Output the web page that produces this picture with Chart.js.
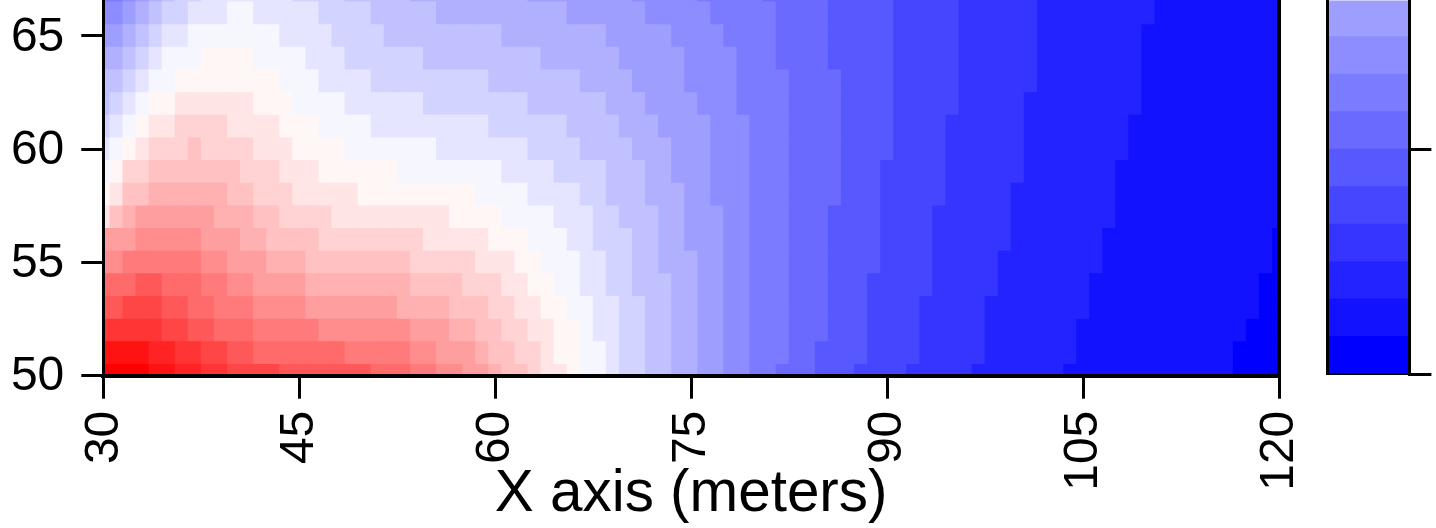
<!DOCTYPE html>
<html>
<head>
<meta charset="utf-8">
<style>
html,body{margin:0;padding:0;background:#fff;overflow:hidden;width:1436px;height:528px}
canvas{position:absolute;top:0;left:0}
</style>
<script src="https://cdn.jsdelivr.net/npm/chart.js@4"></script>
</head>
<body>
<canvas id="main" width="1436" height="528" style="width:1436px;height:528px"></canvas>
<canvas id="bar" width="136" height="528" style="left:1300px;width:136px;height:528px"></canvas>
<script>
// Colour levels, low to high
const palette = ['#0000FF','#1212FF','#2323FF','#3535FF','#4646FF','#5858FF','#6A6AFF','#7B7BFF','#8D8DFF','#9E9EFF',
  '#B0B0FF','#C1C1FF','#D3D3FF','#E5E5FF','#F6F6FF','#FFF6F6','#FFE5E5','#FFD3D3','#FFC1C1','#FFB0B0',
  '#FF9E9E','#FF8D8D','#FF7B7B','#FF6A6A','#FF5858','#FF4646','#FF3535','#FF2323','#FF1212','#FF0000'];

// Each row: [level, last x of that run], read left to right from x = 30
const row50 = [[29,33],[28,35],[27,37],[26,39],[25,43],[24,50],[23,53],[22,55],[21,57],[20,59],[19,60],[18,62],[17,63],[16,65],[15,66],[14,68],[13,69],[12,71],[11,73],[10,75],[9,77],[8,79],[7,81],[6,84],[5,87],[4,91],[3,96],[2,103],[1,116],[0,120]];
const row51 = [[28,33],[27,35],[26,37],[25,39],[24,41],[23,48],[22,53],[21,55],[20,58],[19,59],[18,61],[17,63],[16,64],[15,66],[14,68],[13,69],[12,71],[11,73],[10,75],[9,77],[8,79],[7,82],[6,84],[5,88],[4,92],[3,97],[2,104],[1,116],[0,120]];
const row52 = [[26,34],[25,36],[24,38],[23,41],[22,46],[21,53],[20,56],[19,58],[18,60],[17,62],[16,64],[15,66],[14,67],[13,69],[12,71],[11,73],[10,75],[9,77],[8,79],[7,82],[6,85],[5,88],[4,92],[3,97],[2,104],[1,117],[0,120]];
const row53 = [[24,31],[25,34],[24,36],[23,38],[22,41],[21,45],[20,52],[19,56],[18,59],[17,61],[16,63],[15,65],[14,67],[13,69],[12,71],[11,73],[10,75],[9,77],[8,79],[7,82],[6,85],[5,88],[4,92],[3,97],[2,105],[1,118],[0,120]];
const row54 = [[23,32],[24,34],[23,37],[22,39],[21,41],[20,45],[19,53],[18,57],[17,60],[16,62],[15,64],[14,66],[13,68],[12,70],[11,73],[10,75],[9,77],[8,79],[7,82],[6,85],[5,88],[4,93],[3,98],[2,105],[1,118],[0,120]];
const row55 = [[21,31],[22,37],[21,39],[20,42],[19,45],[18,53],[17,58],[16,61],[15,63],[14,66],[13,68],[12,70],[11,72],[10,75],[9,77],[8,79],[7,82],[6,85],[5,89],[4,93],[3,98],[2,106],[1,119],[0,120]];
const row56 = [[20,32],[21,37],[20,40],[19,42],[18,46],[17,54],[16,59],[15,62],[14,65],[13,67],[12,70],[11,72],[10,74],[9,77],[8,79],[7,82],[6,85],[5,89],[4,93],[3,99],[2,106],[1,119],[0,120]];
const row57 = [[16,30],[18,31],[19,32],[20,38],[19,41],[18,43],[17,47],[16,56],[15,60],[14,64],[13,67],[12,69],[11,72],[10,74],[9,77],[8,79],[7,82],[6,85],[5,89],[4,93],[3,99],[2,107],[1,120]];
const row58 = [[15,30],[16,31],[18,33],[19,39],[18,41],[17,44],[16,49],[15,58],[14,62],[13,66],[12,68],[11,71],[10,74],[9,76],[8,79],[7,82],[6,86],[5,89],[4,94],[3,99],[2,107],[1,120]];
const row59 = [[14,30],[15,31],[17,33],[18,40],[17,43],[16,46],[15,52],[14,60],[13,64],[12,68],[11,71],[10,73],[9,76],[8,79],[7,82],[6,86],[5,89],[4,94],[3,100],[2,107],[1,120]];
const row60 = [[13,30],[14,31],[15,32],[16,33],[17,36],[18,37],[17,41],[16,44],[15,48],[14,55],[13,62],[12,66],[11,70],[10,73],[9,76],[8,79],[7,82],[6,86],[5,90],[4,94],[3,100],[2,108],[1,120]];
const row61 = [[12,30],[13,31],[14,32],[15,33],[16,35],[17,39],[16,43],[15,46],[14,50],[13,59],[12,65],[11,69],[10,72],[9,76],[8,79],[7,82],[6,86],[5,90],[4,94],[3,100],[2,108],[1,120]];
const row62 = [[11,30],[12,31],[13,32],[14,33],[15,35],[16,41],[15,44],[14,48],[13,54],[12,62],[11,68],[10,71],[9,75],[8,78],[7,82],[6,86],[5,90],[4,95],[3,100],[2,109],[1,120]];
const row63 = [[11,31],[12,32],[13,33],[14,35],[15,43],[14,46],[13,50],[12,59],[11,66],[10,70],[9,74],[8,78],[7,82],[6,86],[5,90],[4,95],[3,101],[2,109],[1,120]];
const row64 = [[10,31],[11,32],[12,33],[13,34],[14,37],[15,41],[14,45],[13,48],[12,54],[11,63],[10,69],[9,74],[8,78],[7,81],[6,85],[5,90],[4,95],[3,101],[2,109],[1,120]];
const row65 = [[9,31],[10,32],[11,33],[12,34],[13,36],[14,43],[13,47],[12,51],[11,60],[10,68],[9,73],[8,77],[7,81],[6,85],[5,90],[4,95],[3,101],[2,109],[1,120]];
const row66 = [[8,31],[9,32],[10,33],[11,34],[12,36],[13,39],[14,41],[13,46],[12,50],[11,55],[10,65],[9,71],[8,76],[7,81],[6,85],[5,90],[4,95],[3,101],[2,110],[1,120]];
const row67 = [[7,31],[8,32],[9,33],[10,34],[11,35],[12,37],[13,44],[12,48],[11,53],[10,62],[9,70],[8,75],[7,80],[6,85],[5,90],[4,95],[3,101],[2,110],[1,120]];
const rows = [row50,row51,row52,row53,row54,row55,row56,row57,row58,row59,row60,row61,row62,row63,row64,row65,row66,row67];
const rowValues = [50,51,52,53,54,55,56,57,58,59,60,61,62,63,64,65,66,67];

const colorbarLevels = [0,1,2,3,4,5,6,7,8,9];
const colorbarTicks = [0,6];

const xTitle = 'X axis (meters)';
const FONT = '"Liberation Sans", Arial, Helvetica, sans-serif';
const TICK = 3;

function rowToPoints(runs, yValue){
  const pts = [];
  let x = 30;
  runs.forEach(([level,end])=>{
    for(; x<=end; x++) pts.push({x:x, y:[yValue-0.5,yValue+0.5], level:level});
  });
  return pts;
}

const datasets = rows.map((runs,i)=>({
  data: rowToPoints(runs,rowValues[i]),
  backgroundColor: c => palette[c.raw ? c.raw.level : 0],
  borderWidth: 0,
  barPercentage: 1,
  categoryPercentage: 1,
  grouped: false,
  inflateAmount: 0.4
}));

new Chart(document.getElementById('main'),{
  type:'bar',
  data:{datasets},
  options:{
    responsive:false,animation:false,
    layout:{padding:{left:0,top:0,bottom:0,right:157}},
    plugins:{legend:{display:false},tooltip:{enabled:false},title:{display:false}},
    scales:{
      x:{
        type:'linear',min:30,max:120,offset:false,position:'bottom',
        border:{display:true,color:'#000',width:4,z:2},
        grid:{offset:false,drawOnChartArea:false,drawTicks:true,tickLength:23,tickWidth:TICK,tickColor:'#000',color:'#000',lineWidth:TICK},
        ticks:{stepSize:15,minRotation:90,maxRotation:90,autoSkip:false,padding:12,labelOffset:1,color:'#000',font:{family:FONT,size:48},includeBounds:false},
        title:{display:true,text:xTitle,color:'#000',font:{family:FONT,size:58.4},padding:{top:0,bottom:-2}},
        afterFit(s){s.height=152.3;s.paddingLeft=0;s.paddingRight=0;}
      },
      y:{
        type:'linear',min:50,max:66.587,position:'left',
        border:{display:true,color:'#000',width:3,z:2},
        grid:{drawOnChartArea:false,drawTicks:true,tickLength:22,tickWidth:TICK,tickColor:'#000',color:'#000',lineWidth:TICK},
        ticks:{stepSize:5,padding:17,labelOffset:1.5,color:'#000',font:{family:FONT,size:48},includeBounds:false},
        afterFit(s){s.width=103.3;s.paddingTop=0;s.paddingBottom=0;}
      },
      yRight:{
        type:'linear',min:50,max:66.587,position:'right',
        border:{display:true,color:'#000',width:4,z:2},
        grid:{display:false},
        ticks:{display:false},
        afterFit(s){s.width=0;s.paddingTop=0;s.paddingBottom=0;}
      }
    }
  }
});

new Chart(document.getElementById('bar'),{
  type:'bar',
  data:{
    labels:['scale'],
    datasets:colorbarLevels.map(l=>({
      data:[[l,l+1]],
      backgroundColor:palette[l],
      borderWidth:0,barPercentage:1,categoryPercentage:1,grouped:false,inflateAmount:0.4
    }))
  },
  options:{
    responsive:false,animation:false,
    layout:{padding:{left:0,top:0,bottom:0,right:26.6}},
    plugins:{legend:{display:false},tooltip:{enabled:false}},
    scales:{
      x:{
        type:'category',position:'bottom',
        border:{display:true,color:'#000',width:2,z:2},
        grid:{display:false},
        ticks:{display:false},
        afterFit(s){s.height=154;}
      },
      y:{
        type:'linear',min:0,max:9.96,position:'left',
        border:{display:true,color:'#000',width:3,z:2},
        grid:{display:false},
        ticks:{display:false},
        afterFit(s){s.width=27.7;}
      },
      yTicks:{
        type:'linear',min:0,max:9.96,position:'right',
        border:{display:true,color:'#000',width:3,z:2},
        grid:{drawOnChartArea:false,drawTicks:true,tickLength:22,tickWidth:TICK,tickColor:'#000',color:'#000',lineWidth:TICK},
        ticks:{display:true,color:'rgba(0,0,0,0)',padding:0,font:{size:1},includeBounds:false,callback:()=>''},
        afterBuildTicks(s){s.ticks=colorbarTicks.map(v=>({value:v}));},
        afterFit(s){s.width=0;}
      }
    }
  }
});
</script>
</body>
</html>
